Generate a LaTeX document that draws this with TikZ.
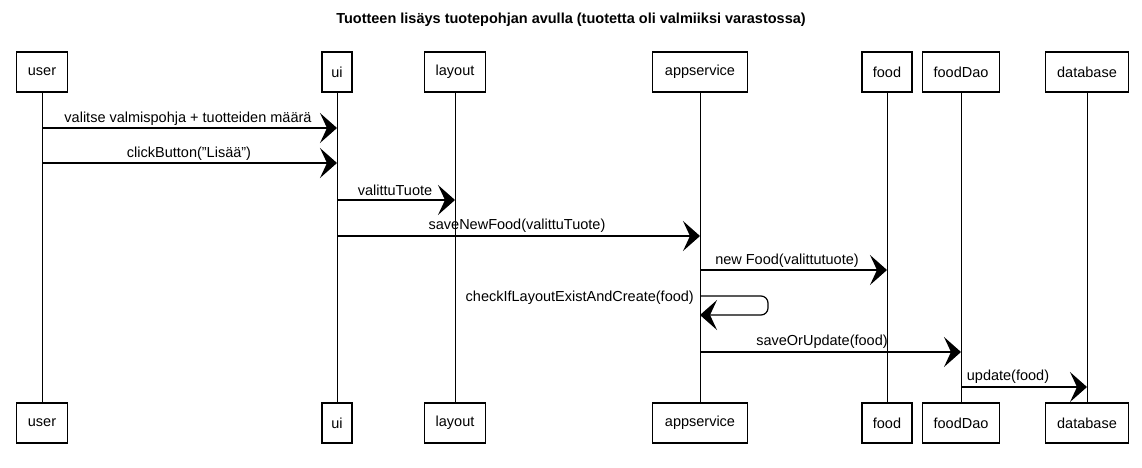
\documentclass[tikz,border=0pt]{standalone}
\usepackage{fontspec}
\setmainfont{Liberation Sans}
\usetikzlibrary{arrows.meta,calc}
\begin{document}
\begin{tikzpicture}[x=1pt,y=-1pt,
  actor/.style={draw, line width=1.1pt, minimum height=40pt, inner sep=0pt, font=\fontsize{14.5}{17}\selectfont},
  life/.style={line width=1pt},
  msg/.style={line width=1.2pt, -{Stealth[length=17pt,width=30pt,inset=7pt]}},
  lbl/.style={font=\fontsize{14.5}{17}\selectfont, inner sep=0pt}]
\useasboundingbox (0,0) rectangle (1142,467);
\node[font=\bfseries\fontsize{14.5}{17}\selectfont] (title) at (571,20) {Tuotteen lisäys tuotepohjan avulla (tuotetta oli valmiiksi varastossa)};
% top participants
\node[actor, minimum width=51pt] (userT) at (42,72) {user};
\node[actor, minimum width=30pt] (uiT) at (337,72) {ui};
\node[actor, minimum width=61pt] (layT) at (455,72) {layout};
\node[actor, minimum width=95pt] (appT) at (700,72) {appservice};
\node[actor, minimum width=50pt] (foodT) at (887,72) {food};
\node[actor, minimum width=77pt] (daoT) at (961,72) {foodDao};
\node[actor, minimum width=83pt] (dbT) at (1087,72) {database};
% bottom participants
\node[actor, minimum width=51pt] (userB) at (42,423) {user};
\node[actor, minimum width=30pt] (uiB) at (337,423) {ui};
\node[actor, minimum width=61pt] (layB) at (455,423) {layout};
\node[actor, minimum width=95pt] (appB) at (700,423) {appservice};
\node[actor, minimum width=50pt] (foodB) at (887,423) {food};
\node[actor, minimum width=77pt] (daoB) at (961,423) {foodDao};
\node[actor, minimum width=83pt] (dbB) at (1087,423) {database};
% lifelines
\foreach \p in {user,ui,lay,app,food,dao,db}
  \draw[life] (\p T.south) -- (\p B.north);
% message anchors
\coordinate (m1s) at (userT.south |- 0,128);
\coordinate (m1e) at (uiT.south |- 0,128);
\coordinate (m2s) at (userT.south |- 0,163);
\coordinate (m2e) at (uiT.south |- 0,163);
\coordinate (m3s) at (uiT.south |- 0,200);
\coordinate (m3e) at (layT.south |- 0,200);
\coordinate (m4s) at (uiT.south |- 0,236);
\coordinate (m4e) at (appT.south |- 0,236);
\coordinate (m5s) at (appT.south |- 0,270);
\coordinate (m5e) at (foodT.south |- 0,270);
\coordinate (m6s) at (appT.south |- 0,296);
\coordinate (m6e) at (appT.south |- 0,315);
\coordinate (m7s) at (appT.south |- 0,352);
\coordinate (m7e) at (daoT.south |- 0,352);
\coordinate (m8s) at (daoT.south |- 0,387);
\coordinate (m8e) at (dbT.south |- 0,387);
% messages
\draw[msg] (m1s) -- (m1e);
\node[lbl] (l1) at (188,119) {valitse valmispohja + tuotteiden määrä};
\draw[msg] (m2s) -- (m2e);
\node[lbl] (l2) at (189,154) {clickButton("Lisää")};
\draw[msg] (m3s) -- (m3e);
\node[lbl] (l3) at (395,190) {valittuTuote};
\draw[msg] (m4s) -- (m4e);
\node[lbl] (l4) at (517,226) {saveNewFood(valittuTuote)};
\draw[msg] (m5s) -- (m5e);
\node[lbl] (l5) at (787,261) {new Food(valittutuote)};
\draw[msg, rounded corners=7pt] (m6s) -- ++(68,0) -- ++(0,19) -- (m6e);
\node[lbl, anchor=east] (l6) at (694,298) {checkIfLayoutExistAndCreate(food)};
\draw[msg] (m7s) -- (m7e);
\node[lbl] (l7) at (822,342) {saveOrUpdate(food)};
\draw[msg] (m8s) -- (m8e);
\node[lbl] (l8) at (1008,377) {update(food)};
\end{tikzpicture}
\end{document}
